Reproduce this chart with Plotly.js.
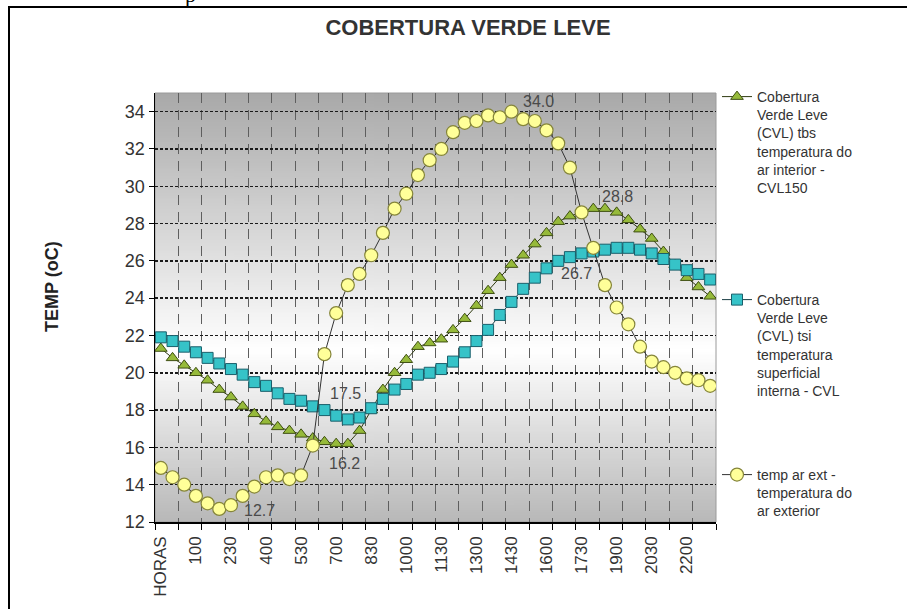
<!DOCTYPE html>
<html><head><meta charset="utf-8">
<script src="https://cdn.plot.ly/plotly-3.0.1.min.js"></script>
<style>html,body{margin:0;padding:0;background:#fff;} #chart{width:907px;height:609px;}</style>
</head><body><div id="chart"></div>
<script>
// ---- data ----
const horas = ["HORAS","0","30","100","130","200","230","300","330","400","430","500","530","600","630","700","730","800","830","900","930","1000","1030","1100","1130","1200","1230","1300","1330","1400","1430","1500","1530","1600","1630","1700","1730","1800","1830","1900","1930","2000","2030","2100","2130","2200","2230","2300"];
const cvlTbs = [21.3,20.8,20.4,20.0,19.6,19.1,18.7,18.2,17.8,17.4,17.1,16.9,16.7,16.5,16.3,16.2,16.2,16.9,18.0,19.1,20.0,20.7,21.4,21.6,21.8,22.3,22.9,23.6,24.4,25.1,25.8,26.3,26.9,27.5,28.1,28.4,28.6,28.8,28.8,28.6,28.2,27.7,27.2,26.5,25.8,25.1,24.6,24.1];
const cvlTsi = [21.9,21.7,21.4,21.1,20.8,20.5,20.2,19.9,19.5,19.3,18.9,18.6,18.5,18.2,18.0,17.7,17.5,17.6,18.1,18.6,19.1,19.4,19.9,20.0,20.2,20.6,21.1,21.7,22.3,23.1,23.8,24.5,25.1,25.6,26.0,26.2,26.4,26.5,26.6,26.7,26.7,26.6,26.4,26.1,25.8,25.5,25.3,25.0];
const tempExt = [14.9,14.4,14.0,13.4,13.0,12.7,12.9,13.4,13.9,14.4,14.5,14.3,14.5,16.1,21.0,23.2,24.7,25.3,26.3,27.5,28.8,29.6,30.6,31.4,32.0,32.9,33.4,33.5,33.8,33.7,34.0,33.6,33.5,33.0,32.3,31.0,28.6,26.7,24.7,23.5,22.6,21.4,20.6,20.3,20.0,19.7,19.6,19.3];
const nameTbs = "Cobertura<br>Verde Leve<br>(CVL) tbs<br>temperatura do<br>ar interior -<br>CVL150";
const nameTsi = "Cobertura<br>Verde Leve<br>(CVL) tsi<br>temperatura<br>superficial<br>interna - CVL";
const nameExt = "temp ar ext -<br>temperatura do<br>ar exterior";
const chartTitle = "COBERTURA VERDE LEVE";
const yTitle = "TEMP (oC)";

// ---- geometry helpers ----
const W=907, H=609, L=155, R=191, T=93, B=87;
const PW=W-L-R, PH=H-T-B;
const px = x => (x-L)/PW;
const py = y => (H-B-y)/PH;
const FONT = "Liberation Sans, Arial, sans-serif";

const idx = horas.map((_, i) => i);
const tickIdx = idx.filter(i => i % 3 === 0);

// plot-area gradient
const cv = document.createElement('canvas'); cv.width = 4; cv.height = 256;
const g = cv.getContext('2d');
const grd = g.createLinearGradient(0,0,0,256);
grd.addColorStop(0,'#a9a9a9'); grd.addColorStop(0.6,'#ffffff'); grd.addColorStop(1,'#b8b8b8');
g.fillStyle = grd; g.fillRect(0,0,4,256);
const bgURL = cv.toDataURL('image/png');

const traces = [
  {x: idx, y: cvlTbs, type:'scatter', mode:'lines+markers', name:nameTbs, legend:'legend',
   line:{color:'#2f3a10', width:1},
   marker:{symbol:'triangle-up', size:11, color:'#96ba3a', line:{color:'#3e4f12', width:1}}},
  {x: idx, y: cvlTsi, type:'scatter', mode:'lines+markers', name:nameTsi, legend:'legend2',
   line:{color:'#1c3f46', width:1},
   marker:{symbol:'square', size:11, color:'#36c3c8', line:{color:'#1a5f6b', width:1}}},
  {x: idx, y: tempExt, type:'scatter', mode:'lines+markers', name:nameExt, legend:'legend3',
   line:{color:'#333333', width:1},
   marker:{symbol:'circle', size:13, color:'#ffff99', line:{color:'#85853a', width:1.2}}}
];

function lbl(arr, i, dx, dy){
  return {x: i, y: arr[i], xref:'x', yref:'y', text: arr[i].toFixed(1), showarrow:false,
          xshift: dx, yshift: dy, font:{family:FONT, size:16, color:'#4a4a4a'}};
}
const iMaxExt = tempExt.indexOf(Math.max(...tempExt));
const iMinExt = tempExt.indexOf(Math.min(...tempExt));
const iMaxTbs = cvlTbs.indexOf(Math.max(...cvlTbs));
const iMinTbs = cvlTbs.indexOf(Math.min(...cvlTbs));
const iMinTsi = cvlTsi.indexOf(Math.min(...cvlTsi));
const iExtLbl = 37;

const legendBase = {xanchor:'left', yanchor:'top', valign:'top', bgcolor:'rgba(0,0,0,0)',
  borderwidth:0, itemwidth:30, font:{family:FONT, size:14, color:'#333'}, visible:true};

const layout = {
  width:W, height:H,
  margin:{l:L, r:R, t:T, b:B, pad:0},
  showlegend:true,
  paper_bgcolor:'#ffffff', plot_bgcolor:'rgba(0,0,0,0)',
  font:{family:FONT, color:'#333'},
  title:{text:'<b>'+chartTitle+'</b>', xref:'container', x:468/W, xanchor:'center',
         yref:'container', y:1-27/H, yanchor:'middle', font:{family:FONT, size:22, color:'#333'}},
  xaxis:{range:[-0.5,47.5], tickmode:'array', tickvals:tickIdx, ticktext:tickIdx.map(i=>horas[i]),
         tickangle:-90, ticks:'', showgrid:false, zeroline:false, showline:true, linecolor:'#000', linewidth:1.5,
         tickfont:{family:FONT, size:17, color:'#333'}, ticklabelstandoff:6,
         minor:{tickmode:'linear', tick0:-0.5, dtick:2, ticks:'outside', ticklen:6, tickcolor:'#000', tickwidth:1,
                showgrid:true, gridcolor:'#5e5e5e', griddash:'10px,7px', gridwidth:1}},
  yaxis:{range:[12,35], tickmode:'linear', tick0:12, dtick:2, ticks:'outside', ticklen:5, tickcolor:'#000',
         showline:true, linecolor:'#000', linewidth:1.5, zeroline:false,
         showgrid:true, gridcolor:'#1a1a1a', griddash:'3px,2px', gridwidth:1.5,
         tickfont:{family:FONT, size:18, color:'#333'}},
  legend: Object.assign({}, legendBase, {x:px(717), y:py(81)}),
  legend2: Object.assign({}, legendBase, {x:px(717), y:py(284)}),
  legend3: Object.assign({}, legendBase, {x:px(717), y:py(459)}),
  images:[{source:bgURL, xref:'paper', yref:'paper', x:0, y:1, sizex:1, sizey:1,
           sizing:'stretch', xanchor:'left', yanchor:'top', layer:'below'}],
  shapes:[
    {type:'rect', xref:'paper', yref:'paper', x0:0, x1:1, y0:0, y1:1, line:{color:'#9a9a9a', width:1}, layer:'below'},
    {type:'line', xref:'paper', yref:'paper', x0:px(9), x1:px(9), y0:py(6), y1:py(625), line:{color:'#000', width:2}},
    {type:'line', xref:'paper', yref:'paper', x0:px(8), x1:px(925), y0:py(7), y1:py(7), line:{color:'#000', width:2}}
  ],
  annotations:[
    {text:'<b>'+yTitle+'</b>', xref:'paper', yref:'paper', x:px(52), y:py(287), textangle:-90,
     showarrow:false, xanchor:'center', yanchor:'middle', font:{family:FONT, size:18, color:'#222'}},
    {text:'p', xref:'paper', yref:'paper', x:px(190), y:py(9), xanchor:'center', yanchor:'bottom', showarrow:false,
     font:{family:'Liberation Serif, serif', size:22, color:'#000'}},
    lbl(tempExt, iMaxExt, 27, 10),
    lbl(tempExt, iMinExt, 40, -2),
    lbl(tempExt, iExtLbl, -17, -26),
    lbl(cvlTbs, iMaxTbs, 24, 12),
    lbl(cvlTbs, iMinTbs, 8, -20),
    lbl(cvlTsi, iMinTsi, -2, 26)
  ]
};

Plotly.newPlot('chart', traces, layout, {displayModeBar:false, staticPlot:true});
</script></body></html>
